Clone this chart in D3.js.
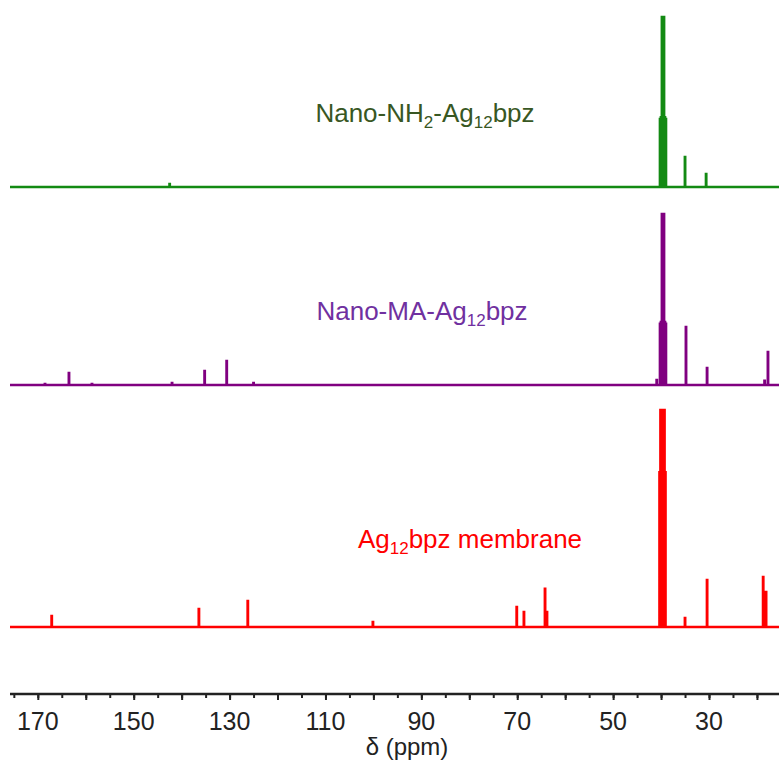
<!DOCTYPE html>
<html>
<head>
<meta charset="utf-8">
<script src="https://cdn.jsdelivr.net/npm/d3@7"></script>
<style>
  body { margin: 0; background: #fff; }
  text { font-family: "Liberation Sans", Arial, sans-serif; }
</style>
</head>
<body>
<svg id="nmr"></svg>
<script>
// 13C NMR spectra, peaks as [ppm, relative intensity]
var greenPeaks = [
    [142.5, 1.8],
    [40.2, 40], [40.0, 41], [39.8, 100], [39.6, 100], [39.4, 100], [39.2, 41], [39.0, 40],
    [35.0, 17.6],
    [30.6, 7.6]
];
var purplePeaks = [
    [168.5, 0.6],
    [163.5, 7.1],
    [158.7, 0.6],
    [142.0, 1.2],
    [135.2, 8.2],
    [130.6, 14.1],
    [125.0, 1.2],
    [40.9, 2.9],
    [40.2, 36], [40.0, 37], [39.8, 100.6], [39.6, 100.6], [39.4, 100.6], [39.2, 37], [39.0, 36],
    [34.8, 34.1],
    [30.4, 10],
    [18.4, 2.4],
    [17.7, 19.4]
];
var redPeaks = [
    [167.1, 6.5],
    [136.4, 10.6],
    [126.2, 15.3],
    [100.1, 2.9],
    [70.1, 11.8],
    [68.6, 8.8],
    [64.2, 22.4],
    [63.8, 8.8],
    [40.3, 91], [40.1, 127.6], [39.9, 127.6], [39.7, 127.6], [39.5, 127.6], [39.3, 127.6], [39.1, 91],
    [35.0, 5.3],
    [30.4, 27.6],
    [18.7, 29.4],
    [18.1, 20.6]
];
var labelTicks = [170, 150, 130, 110, 90, 70, 50, 30];

var width = 779;
var height = 765;

var xScale = d3.scaleLinear()
    .domain([175.8, 15.4])
    .range([10, 779]);
// intensity -> pixel rise above the baseline
var yScale = d3.scaleLinear()
    .domain([0, 100])
    .range([0, -170]);

var svg = d3.select("#nmr")
    .attr('width', width)
    .attr('height', height);

var linePath = d3.line()
    .x(function(d){ return xScale(d[0]) })
    .y(function(d){ return yScale(d[1]) });

function peak_points(peaks){
    var pts = [[175.8, 0]];
    var dw = 0.03;
    peaks.slice().sort(function(a, b){ return b[0] - a[0] }).forEach(function(p){
        pts.push([p[0] + dw, 0]);
        pts.push([p[0] + dw, p[1]]);
        pts.push([p[0] - dw, p[1]]);
        pts.push([p[0] - dw, 0]);
    });
    pts.push([15.4, 0]);
    return pts;
}

function draw_spectrum(peaks, baseY, color){
    svg.append('path')
        .attr('transform', 'translate(0,' + baseY + ')')
        .attr('d', linePath(peak_points(peaks)))
        .attr('fill', 'none')
        .attr('stroke', color)
        .attr('stroke-width', 2.6)
        .attr('stroke-linejoin', 'miter');
}

draw_spectrum(greenPeaks, 187, '#138a13');
draw_spectrum(purplePeaks, 385, '#800080');
draw_spectrum(redPeaks, 627, '#ff0000');

function draw_label(x, y, color, parts){
    var t = svg.append('text')
        .attr('x', x)
        .attr('y', y)
        .attr('text-anchor', 'middle')
        .attr('font-size', 26)
        .attr('fill', color);
    parts.forEach(function(p){
        var s = t.append('tspan').text(p[0]);
        if (p[1]) s.attr('font-size', 17).attr('dy', 6);
        else if (p[2]) s.attr('dy', -6);
    });
}
draw_label(425, 122, '#385723', [['Nano-NH'], ['2', true], ['-Ag', false, true], ['12', true], ['bpz', false, true]]);
draw_label(422, 320, '#7030a0', [['Nano-MA-Ag'], ['12', true], ['bpz', false, true]]);
draw_label(470, 548, '#ff0000', [['Ag'], ['12', true], ['bpz membrane', false, true]]);

function draw_axis(){
    var axisY = 694;
    var g = svg.append('g')
        .attr('transform', 'translate(0,' + axisY + ')');
    var minor = d3.axisBottom(xScale)
        .tickValues(d3.range(20, 176, 5))
        .tickSize(4)
        .tickFormat('');
    var major = d3.axisBottom(xScale)
        .tickValues(d3.range(20, 176, 10))
        .tickSize(6)
        .tickFormat('');
    g.append('g').call(minor);
    g.append('g').call(major);
    g.selectAll('.domain').remove();
    g.selectAll('line').attr('stroke', '#222').attr('stroke-width', 2);
    g.append('line')
        .attr('x1', 10).attr('x2', 779)
        .attr('stroke', '#222')
        .attr('stroke-width', 2.5);
    g.selectAll('.lbl')
        .data(labelTicks)
        .enter()
        .append('text')
        .attr('class', 'lbl')
        .attr('x', function(d){ return xScale(d) })
        .attr('y', 36)
        .attr('text-anchor', 'middle')
        .attr('font-size', 25)
        .attr('fill', '#222')
        .text(function(d){ return d });
    svg.append('text')
        .attr('x', 407)
        .attr('y', 755)
        .attr('text-anchor', 'middle')
        .attr('font-size', 24)
        .attr('fill', '#222')
        .text('δ (ppm)');
}
draw_axis();
</script>
</body>
</html>
